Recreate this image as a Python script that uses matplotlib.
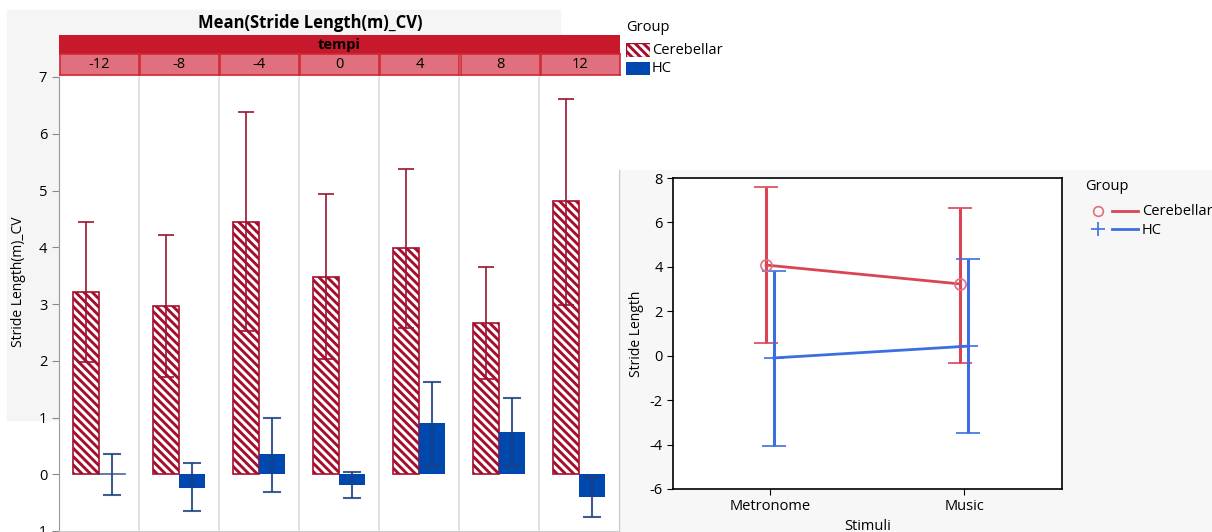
import matplotlib
matplotlib.use("Agg")
import matplotlib.pyplot as plt
from matplotlib.patches import Rectangle
import numpy as np

plt.rcParams["font.family"] = ["Open Sans", "DejaVu Sans"]
plt.rcParams["hatch.linewidth"] = 2.1
plt.rcParams["axes.unicode_minus"] = False

# left chart: mean stride length CV per tempo, per group
tempi = ["-12", "-8", "-4", "0", "4", "8", "12"]
cer_mean = [3.21, 2.97, 4.45, 3.48, 3.98, 2.67, 4.81]
cer_hi = [4.44, 4.22, 6.38, 4.93, 5.38, 3.66, 6.62]
cer_lo = [1.98, 1.72, 2.52, 2.03, 2.57, 1.67, 2.99]
hc_mean = [0.0, -0.24, 0.35, -0.19, 0.90, 0.75, -0.40]
hc_hi = [0.35, 0.19, 1.00, 0.04, 1.62, 1.34, -0.04]
hc_lo = [-0.37, -0.65, -0.32, -0.42, 0.16, 0.17, -0.76]

# right chart: stride length by stimuli
stimuli = ["Metronome", "Music"]
cer_stim = [4.08, 3.23]
cer_stim_hi = [7.60, 6.65]
cer_stim_lo = [0.57, -0.33]
hc_stim = [-0.10, 0.43]
hc_stim_hi = [3.80, 4.35]
hc_stim_lo = [-4.07, -3.48]

W, H = 1212, 532
CER = "#a50f2d"
HC = "#0048ad"
STRIP = "#c8182c"
STRIP_LIGHT = "#e0707d"
RED = "#da4556"
BLUE = "#3d6ee0"
HATCH = "\\\\\\\\"  # 4 backslashes -> stripe spacing close to the reference


def px(x0, y0, x1, y1):
    """pixel box (top-left origin) -> figure fraction rect"""
    return [x0 / W, 1 - y1 / H, (x1 - x0) / W, (y1 - y0) / H]


fig = plt.figure(figsize=(W / 100, H / 100), dpi=100)
fig.patch.set_facecolor("white")

# gray backgrounds, behind all axes
fig.patches.append(Rectangle((7 / W, 1 - 420 / H), 553 / W, 410 / H,
                             transform=fig.transFigure, color="#f5f5f5", zorder=-5))
fig.patches.append(Rectangle((619 / W, 0), (W - 619) / W, 1 - 170 / H,
                             transform=fig.transFigure, color="#f7f7f7", zorder=-5))
fig.add_artist(plt.Line2D([619 / W, 619 / W], [0, 1 - 170 / H],
                          transform=fig.transFigure, color="#c8c8c8", lw=1, zorder=-4))

# ---- left chart ----
ax = fig.add_axes(px(59, 77, 619, 531))
ax.set_facecolor("white")
n = len(tempi)
x = np.arange(n)
ax.bar(x + 0.175, cer_mean, width=0.325, align="edge", facecolor="white",
       edgecolor=CER, hatch=HATCH, lw=1.2, zorder=2)
ax.bar(x + 0.5, hc_mean, width=0.325, align="edge", color=HC, zorder=2)
cer_c = x + 0.3375
hc_c = x + 0.6625
cm = np.array(cer_mean)
hm = np.array(hc_mean)
ax.errorbar(cer_c, cm, yerr=[cm - np.array(cer_lo), np.array(cer_hi) - cm],
            fmt="none", ecolor="#9a1530", elinewidth=1.2, capsize=6, capthick=1.2, zorder=3)
ax.errorbar(hc_c, hm, yerr=[hm - np.array(hc_lo), np.array(hc_hi) - hm],
            fmt="none", ecolor="#1e3f80", alpha=0.85, elinewidth=1.5, capsize=6.5,
            capthick=1.5, zorder=3)
# zero-height HC bar drawn as a flat line
for i, v in enumerate(hc_mean):
    if v == 0:
        ax.plot([i + 0.5, i + 0.825], [0, 0], color="#1e3f80", lw=1.2, alpha=0.8, zorder=3)
for b in range(1, n):
    ax.axvline(b, color="#dcdcdc", lw=1.2, zorder=1)
ax.set_xlim(0, n)
ax.set_ylim(-1, 7)
ax.set_yticks(range(-1, 8))
ax.set_xticks([])
ax.tick_params(axis="y", labelsize=10.5, length=5, color="#888888")
for s in ["top", "right"]:
    ax.spines[s].set_visible(False)
ax.spines["left"].set_color("#999999")
ax.spines["bottom"].set_color("#cccccc")
fig.text(19 / W, 1 - 282 / H, "Stride Length(m)_CV", rotation=90, ha="center",
         va="center", fontsize=10)

# strips
sa = fig.add_axes(px(59, 35, 620, 54))
sa.set_facecolor(STRIP)
sa.set_xticks([]); sa.set_yticks([])
for s in sa.spines.values():
    s.set_visible(False)
sa.text(0.5, 0.45, "tempi", ha="center", va="center", fontsize=10.5,
        fontweight="bold", transform=sa.transAxes)
for i, t in enumerate(tempi):
    x0 = 59 + i * 80.2
    ta = fig.add_axes(px(x0 + 0.5, 54, x0 + 79.5, 75))
    ta.set_facecolor(STRIP_LIGHT)
    ta.set_xticks([]); ta.set_yticks([])
    for s in ta.spines.values():
        s.set_color("#d02838")
        s.set_linewidth(1.2)
    ta.text(0.5, 0.48, t, ha="center", va="center", fontsize=10.5, transform=ta.transAxes)

fig.text(310 / W, 1 - 23 / H, "Mean(Stride Length(m)_CV)", ha="center", va="center",
         fontsize=12, fontweight="bold")

# left legend
fig.text(626 / W, 1 - 28 / H, "Group", ha="left", va="center", fontsize=10.5)
la = fig.add_axes(px(626, 43, 650, 57))
la.add_patch(Rectangle((0, 0), 1, 1, facecolor="white", edgecolor=CER, hatch=HATCH,
                       lw=1.0))
la.set_xlim(0, 1); la.set_ylim(0, 1); la.axis("off")
fig.text(652 / W, 1 - 50 / H, "Cerebellar", ha="left", va="center", fontsize=10.5)
lb = fig.add_axes(px(626, 62, 650, 75))
lb.add_patch(Rectangle((0, 0), 1, 1, color=HC))
lb.set_xlim(0, 1); lb.set_ylim(0, 1); lb.axis("off")
fig.text(652 / W, 1 - 68 / H, "HC", ha="left", va="center", fontsize=10.5)

# ---- right chart ----
ar = fig.add_axes(px(673, 178, 1062, 489))
ar.set_facecolor("white")
xs = np.arange(len(stimuli))
cs = np.array(cer_stim)
hs = np.array(hc_stim)
ar.errorbar(xs - 0.02, cs, yerr=[cs - np.array(cer_stim_lo), np.array(cer_stim_hi) - cs],
            color=RED, lw=2, elinewidth=2.2, capsize=8.5, capthick=2.2,
            marker="o", mfc="none", mec="#e0707d", ms=8, mew=1.2)
ar.errorbar(xs + 0.02, hs, yerr=[hs - np.array(hc_stim_lo), np.array(hc_stim_hi) - hs],
            color=BLUE, lw=2, elinewidth=2.2, capsize=8.5, capthick=2.2,
            marker="+", mec=BLUE, ms=14, mew=1.2)
ar.set_xlim(-0.5, 1.505)
ar.set_ylim(-6, 8)
ar.set_yticks(range(-6, 9, 2))
ar.set_xticks(xs)
ar.set_xticklabels(stimuli)
ar.tick_params(labelsize=10.5, length=4)
for s in ar.spines.values():
    s.set_linewidth(1.2)
ar.set_ylabel("Stride Length", fontsize=10, labelpad=4)
ar.set_xlabel("Stimuli", fontsize=10.5, labelpad=3)

# right legend
fig.text(1085 / W, 1 - 187 / H, "Group", ha="left", va="center", fontsize=10.5)
lg = fig.add_axes(px(1090, 203, 1140, 239))
lg.set_xlim(0, 50); lg.set_ylim(36, 0); lg.axis("off")
lg.plot([8], [8], marker="o", mfc="none", mec="#e0707d", ms=7, mew=1.2)
lg.plot([22, 48], [8, 8], color=RED, lw=2)
lg.plot([8], [26], marker="+", mec=BLUE, ms=10, mew=1.2)
lg.plot([22, 48], [26, 26], color=BLUE, lw=2)
fig.text(1142 / W, 1 - 211 / H, "Cerebellar", ha="left", va="center", fontsize=10.5)
fig.text(1142 / W, 1 - 230 / H, "HC", ha="left", va="center", fontsize=10.5)

fig.savefig("out.png", dpi=100)
